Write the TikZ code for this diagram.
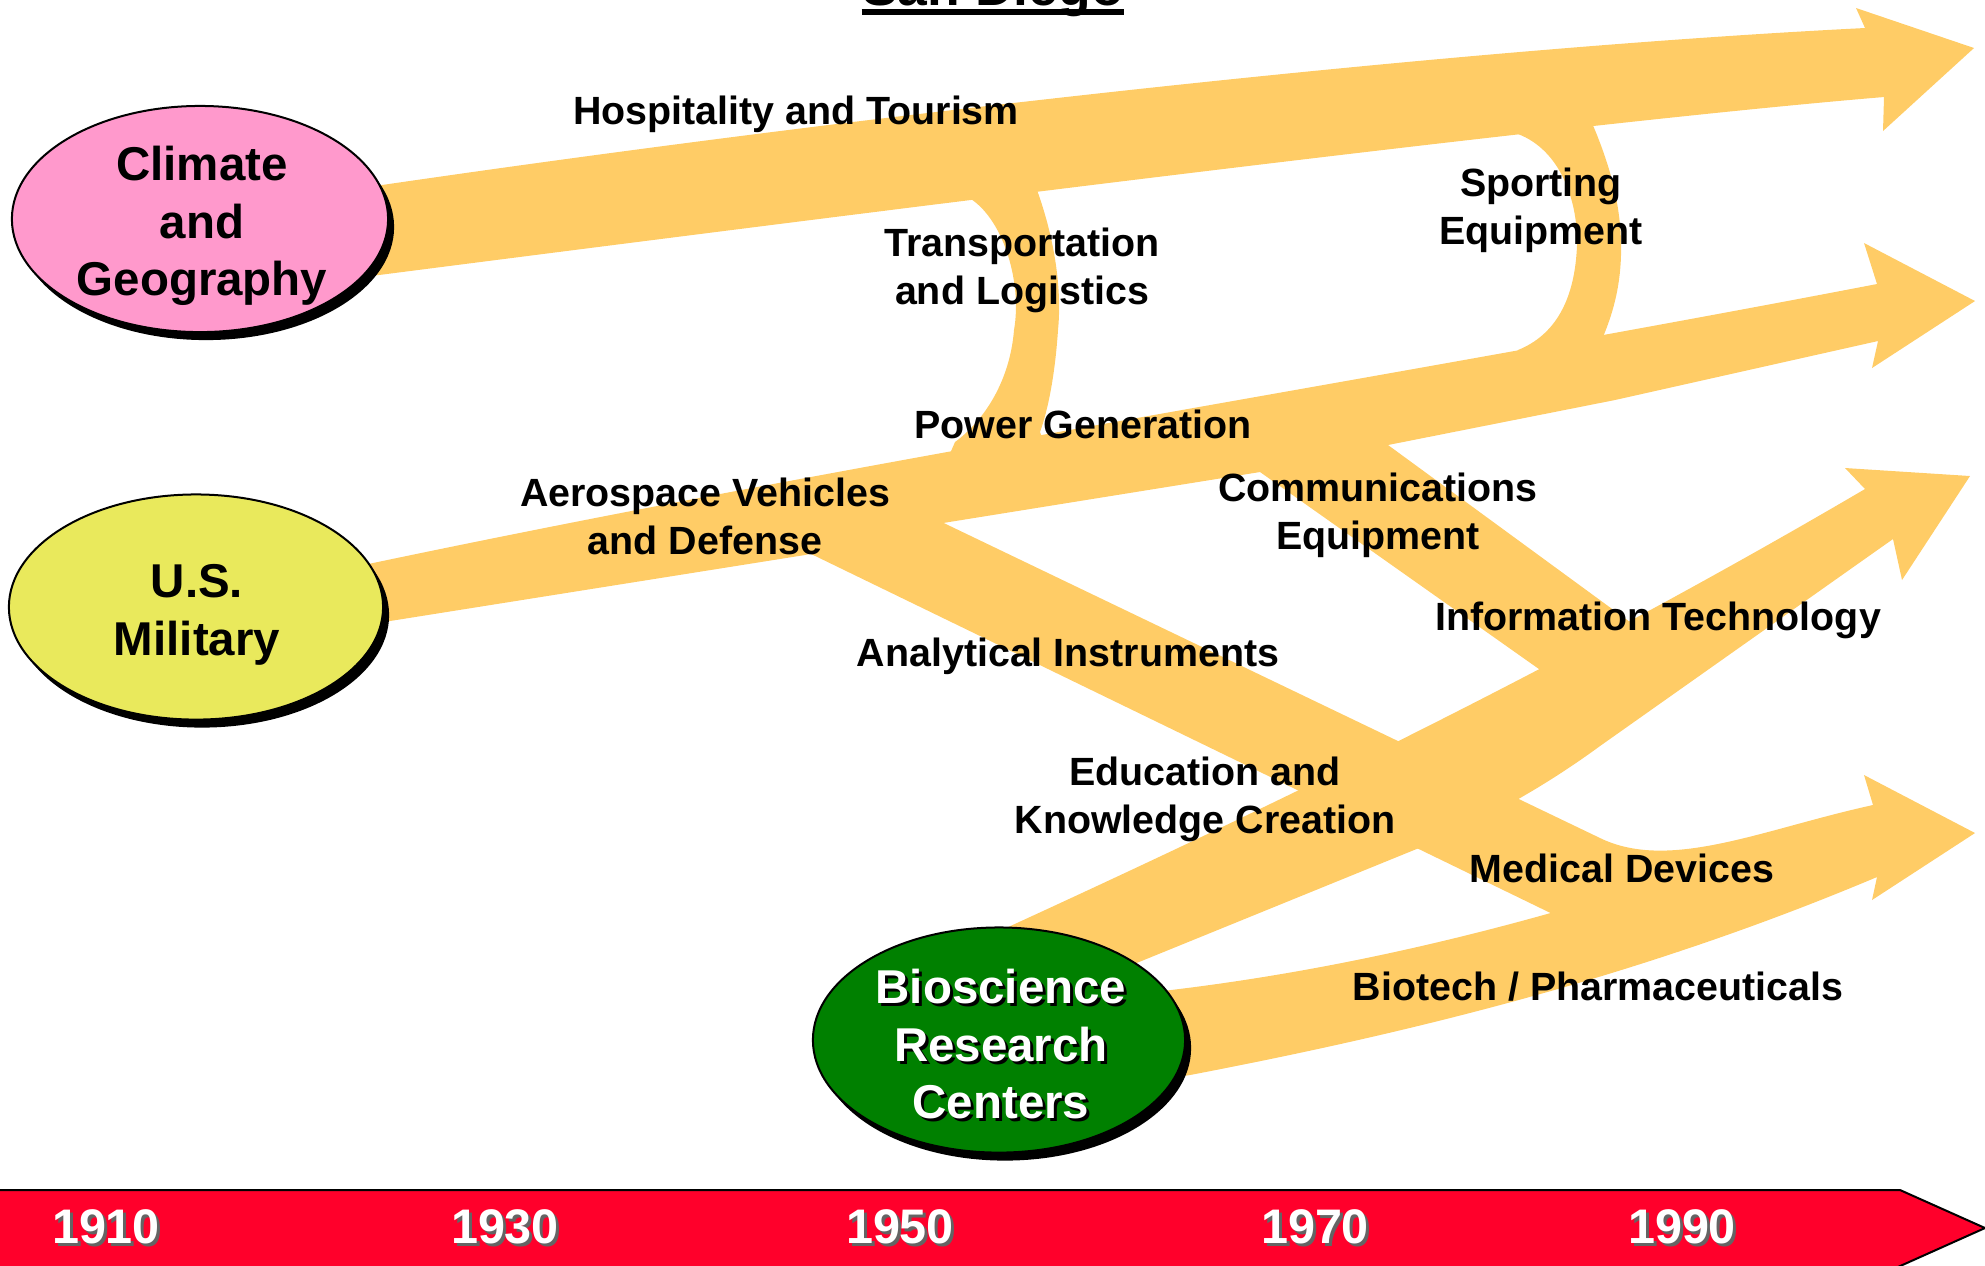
\documentclass[tikz,border=0pt]{standalone}
\usepackage{fontspec}
\setmainfont{Liberation Sans}
\usetikzlibrary{shapes.geometric,shadows}
\definecolor{bandc}{RGB}{255,204,102}
\definecolor{climc}{RGB}{255,153,204}
\definecolor{milc}{RGB}{233,233,92}
\definecolor{bioc}{RGB}{0,128,0}
\definecolor{timec}{RGB}{255,0,43}
\definecolor{yrshadow}{RGB}{100,100,100}
\newcommand{\lblfont}{\fontsize{11.2}{13.66}\selectfont\bfseries}
\newcommand{\ellfont}{\fontsize{13.5}{16.4}\selectfont\bfseries}
\newcommand{\yearfont}{\fontsize{13.8}{16}\selectfont\bfseries}
\newcommand{\ttlfont}{\fontsize{15.2}{18}\selectfont\bfseries}
\begin{document}
\begin{tikzpicture}[x=0.01cm,y=-0.01cm,
  band/.style={fill=bandc,draw=none},
  blob/.style={ellipse,draw=black,line width=0.02cm,inner sep=0pt,
     drop shadow={shadow xshift=0.06cm,shadow yshift=-0.08cm,fill=black,opacity=1}},
  lbl/.style={font=\lblfont,align=center,inner sep=0pt},
  etxt/.style={font=\ellfont,align=center,inner sep=0pt},
  yr/.style={font=\yearfont,inner sep=0pt,anchor=base},
]
\useasboundingbox (0,0) rectangle (1985,1265);

% ---- bands ----
% Hospitality and Tourism
\fill[band] (320,194) -- (382,185) .. controls (882,112) and (1465,48) .. (1865,28)
  -- (1856,8) -- (1974,48) -- (1883,131) -- (1884,97)
  .. controls (1584,122) and (979,198) .. (379,275) -- (340,280) -- cycle;
% Transportation and Logistics
\fill[band] (960,185) -- (971,199) .. controls (1005,222) and (1022,285) .. (1014,330)
  .. controls (1010,380) and (985,420) .. (955,442) -- (945,465) -- (1045,445) -- (1040,432)
  .. controls (1048,410) and (1055,375) .. (1058,330)
  .. controls (1062,290) and (1055,240) .. (1037,190) -- (1030,175) -- cycle;
% Sporting Equipment
\fill[band] (1510,120) -- (1518,134) .. controls (1560,150) and (1578,200) .. (1577,245)
  .. controls (1575,300) and (1555,335) .. (1518,350) -- (1510,362) -- (1610,345) -- (1603,337)
  .. controls (1612,315) and (1620,290) .. (1621,255)
  .. controls (1622,210) and (1612,170) .. (1592,123) -- (1600,110) -- cycle;
% Aerospace / Power Generation
\fill[band] (300,578) -- (373,563) .. controls (873,458) and (1377,380) .. (1877,284)
  -- (1864,243) -- (1975,301) -- (1872,368) -- (1878,341)
  -- (1615,400) -- (1388,445) -- (1260,472) -- (943,523) -- (805,555) -- (390,621) -- (300,636) -- cycle;
% Analytical Instruments / Medical Devices
\fill[band] (850,478) -- (1600,838) .. controls (1670,872) and (1763,829) .. (1873,805)
  -- (1860,840) -- (1600,937) -- (805,551) -- cycle;
% Communications Equipment
\fill[band] (1240,455) -- (1260,472) -- (1580,698) -- (1660,644) -- (1388,445) -- (1380,425) -- cycle;
% Education / Information Technology
\fill[band] (960,949) -- (1006,928) .. controls (1296,795) and (1575,659) .. (1865,489)
  -- (1845,468) -- (1970,476) -- (1902,580) -- (1893,539)
  -- (1600,746) .. controls (1540,790) and (1480,822) .. (1419,848) -- (1139,962) -- (1100,977) -- cycle;
% Biotech / Pharmaceuticals
\fill[band] (1100,1000) -- (1171,990) .. controls (1421,960) and (1650,890) .. (1873,805)
  -- (1864,775) -- (1975,833) -- (1872,900) -- (1877,877)
  .. controls (1647,974) and (1420,1031) .. (1190,1075) -- (1100,1090) -- cycle;

% ---- source ellipses ----
\node[blob,fill=climc,minimum width=3.76cm,minimum height=2.26cm] (clim) at (200,219) {};
\node[blob,fill=milc,minimum width=3.74cm,minimum height=2.25cm] (mil) at (196,607) {};
\node[blob,fill=bioc,minimum width=3.72cm,minimum height=2.25cm] (bio) at (999,1040) {};

\node[etxt] (climt) at (202,226) {Climate\\and\\Geography};
\node[etxt] (milt) at (197,615) {U.S.\\Military};
\node[etxt,text=black] (biosh) at (1004,1047) {Bioscience\\Research\\Centers};
\node[etxt,text=white] (biot) at (1001,1044) {Bioscience\\Research\\Centers};

% ---- labels ----
\node[lbl,anchor=base] (hosp) at (796,124) {Hospitality and Tourism};
\node[lbl] (trans) at (1022,270) {Transportation\\and Logistics};
\node[lbl] (sport) at (1541,210) {Sporting\\Equipment};
\node[lbl,anchor=base] (power) at (1083,438) {Power Generation};
\node[lbl] (aero) at (705,516) {Aerospace Vehicles\\and Defense};
\node[lbl] (comm) at (1378,515) {Communications\\Equipment};
\node[lbl,anchor=base] (info) at (1658,630) {Information Technology};
\node[lbl,anchor=base] (anal) at (1068,666) {Analytical Instruments};
\node[lbl] (edu) at (1205,799) {Education and\\Knowledge Creation};
\node[lbl,anchor=base] (med) at (1622,882) {Medical Devices};
\node[lbl,anchor=base] (biotech) at (1598,1000) {Biotech / Pharmaceuticals};

% ---- title (cut off at top) ----
\node[font=\ttlfont,inner sep=0pt,anchor=base] (title) at (993,5) {San Diego};
\draw[line width=0.06cm] ([yshift=-0.07cm]title.base west) -- ([yshift=-0.07cm]title.base east);

% ---- timeline ----
\filldraw[fill=timec,draw=black,line width=0.02cm]
  (-10,1190) -- (1900,1190) -- (1985,1228) -- (1880,1275) -- (-10,1275) -- cycle;
\foreach \yx/\yt/\nm in {106/1910/ya,505/1930/yb,900/1950/yc,1315/1970/yd,1682/1990/ye}{
  \node[yr,text=yrshadow] (\nm s) at (\yx+3,1246) {\yt};
  \node[yr,text=white] (\nm) at (\yx,1243) {\yt};
}
\end{tikzpicture}
\end{document}
